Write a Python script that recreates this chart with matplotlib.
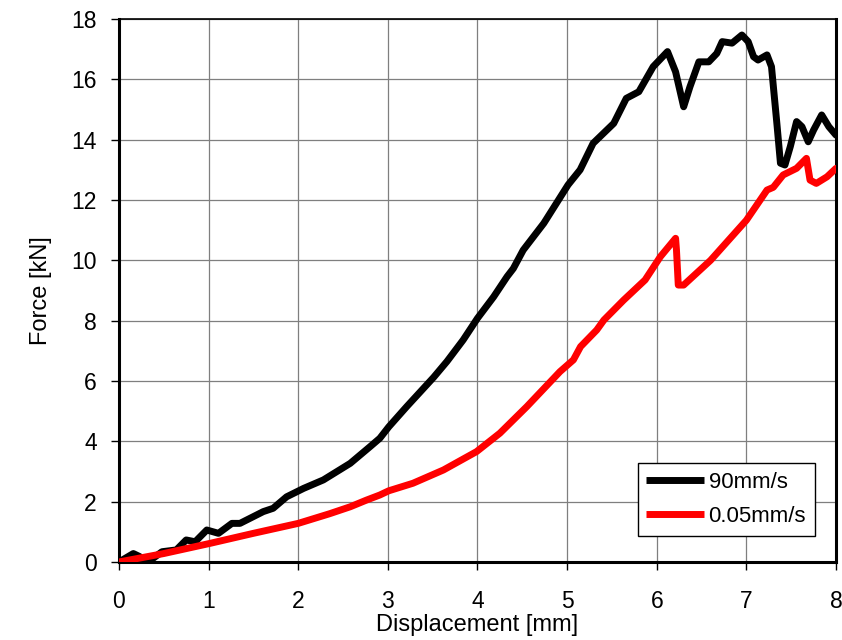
import matplotlib
matplotlib.use("Agg")
import matplotlib.pyplot as plt

plt.rcParams['font.family'] = ['Liberation Sans', 'DejaVu Sans']

# Force-displacement data, 90 mm/s test
fast_disp = [0.0, 0.16, 0.23, 0.31, 0.38, 0.48, 0.64, 0.75, 0.85, 0.98, 1.11, 1.26, 1.35,
             1.61, 1.72, 1.87, 2.06, 2.28, 2.58, 2.80, 2.91, 3.01, 3.21, 3.51, 3.66,
             3.84, 4.00, 4.18, 4.33, 4.40, 4.51, 4.74, 5.01, 5.145, 5.29, 5.52, 5.66, 5.80,
             5.96, 6.12, 6.21, 6.30, 6.37, 6.47, 6.58, 6.67, 6.73, 6.84, 6.95, 7.02, 7.08,
             7.13, 7.23, 7.28, 7.34, 7.38, 7.43, 7.49, 7.56, 7.62, 7.69, 7.75, 7.84, 7.92, 8.0]
fast_force = [0.0, 0.28, 0.18, -0.04, 0.12, 0.34, 0.40, 0.73, 0.67, 1.06, 0.95, 1.28, 1.28,
              1.67, 1.78, 2.16, 2.44, 2.72, 3.27, 3.82, 4.10, 4.48, 5.15, 6.12, 6.65,
              7.36, 8.08, 8.79, 9.46, 9.73, 10.34, 11.23, 12.5, 13.0, 13.88, 14.54, 15.37, 15.59,
              16.42, 16.92, 16.25, 15.09, 15.75, 16.58, 16.58, 16.86, 17.25, 17.2, 17.47, 17.25, 16.75,
              16.64, 16.81, 16.42, 14.54, 13.22, 13.16, 13.77, 14.6, 14.43, 13.93, 14.32, 14.82, 14.43, 14.15]

# Force-displacement data, 0.05 mm/s test
slow_disp = [0.0, 0.5, 1.02, 1.5, 2.0, 2.35, 2.58, 2.76, 2.91, 3.01, 3.28, 3.62, 3.99, 4.25,
             4.55, 4.85, 4.92, 5.07, 5.15, 5.33, 5.41, 5.63, 5.87, 6.04, 6.21, 6.22, 6.24,
             6.30, 6.60, 7.0, 7.23, 7.30, 7.41, 7.56, 7.67, 7.71, 7.78, 7.90, 8.0]
slow_force = [0.0, 0.28, 0.62, 0.95, 1.28, 1.6, 1.83, 2.05, 2.22, 2.36, 2.61, 3.05, 3.66, 4.27,
              5.15, 6.09, 6.31, 6.70, 7.14, 7.69, 8.02, 8.68, 9.35, 10.12, 10.73, 10.34, 9.18,
              9.18, 10.0, 11.33, 12.33, 12.42, 12.83, 13.05, 13.38, 12.66, 12.55, 12.77, 13.05]

x_ticks = list(range(0, 9))
y_ticks = list(range(0, 19, 2))

fig = plt.figure(figsize=(8.42, 6.4), dpi=100)
ax = fig.add_axes([0.1413, 0.1219, 0.8516, 0.8484])

ax.plot(fast_disp, fast_force, color='black', lw=5.0, solid_joinstyle='round',
        solid_capstyle='round', label='90mm/s', zorder=3)
ax.plot(slow_disp, slow_force, color='#ff0000', lw=5.0, solid_joinstyle='round',
        solid_capstyle='round', label='0.05mm/s', zorder=3)

ax.set_xlim(0, 8)
ax.set_ylim(0, 18)
ax.set_xticks(x_ticks)
ax.set_yticks(y_ticks)
ax.grid(True, color='#7f7f7f', lw=0.9)
ax.set_axisbelow(True)

for side in ['left', 'bottom', 'right']:
    ax.spines[side].set_linewidth(2.2)
ax.spines['top'].set_linewidth(1.2)

ax.tick_params(direction='out', length=6, width=1, labelsize=16.5)
ax.tick_params(axis='x', pad=14)
ax.tick_params(axis='y', pad=10)

ax.set_xlabel('Displacement [mm]', fontsize=17, labelpad=1)
ax.set_ylabel('Force [kN]', fontsize=17, labelpad=14)

leg = ax.legend(loc='lower right', bbox_to_anchor=(0.9707, 0.0479), borderaxespad=0,
                fontsize=16, frameon=True, fancybox=False, edgecolor='black', framealpha=1,
                handlelength=2.6, borderpad=0.4, labelspacing=0.6, handletextpad=0.2)
leg.get_frame().set_linewidth(1.0)
for line in leg.get_lines():
    line.set_linewidth(5)
    line.set_solid_capstyle('butt')

fig.savefig('out.png', dpi=100)
